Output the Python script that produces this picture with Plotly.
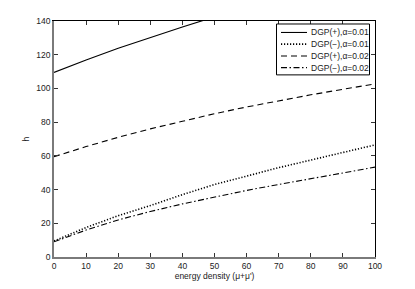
import plotly.graph_objects as go

energy = [0, 10, 20, 30, 40, 50, 60, 70, 80, 90, 100]
energy_plus01 = [0, 10, 20, 30, 40, 50]
h_plus_001 = [109.5, 116.9, 123.8, 130.3, 136.5, 142.4]
h_minus_001 = [9.5, 17.5, 24.5, 30.5, 37.0, 43.0, 48.0, 53.0, 57.5, 62.0, 66.5]
h_plus_002 = [59.5, 65.5, 71.0, 76.0, 80.5, 85.0, 89.0, 92.7, 96.2, 99.5, 102.7]
h_minus_002 = [9.0, 16.0, 22.0, 27.0, 31.5, 35.5, 39.5, 43.0, 46.5, 50.0, 53.3]

names = ["DGP(+),α=0.01", "DGP(−),α=0.01", "DGP(+),α=0.02", "DGP(−),α=0.02"]
x_ticks = [0, 10, 20, 30, 40, 50, 60, 70, 80, 90, 100]
y_ticks = [0, 20, 40, 60, 80, 100, 120, 140]

# page body has an 8px margin; figure is sized/offset to compensate
OFF = 8
W, H = 415 - OFF, 289 - OFF
ML, MT = 54 - OFF, 21 - OFF
MR = W - (375 - OFF)
MB = H - (257.5 - OFF)
PW, PH = W - ML - MR, H - MT - MB

font = dict(family="Liberation Sans, Arial, sans-serif", size=8.5, color="#222")

styles = [
    dict(color="black", width=1.1, dash="solid"),
    dict(color="black", width=1.6, dash="1.2px,1.8px"),
    dict(color="black", width=1.1, dash="6px,4px"),
    dict(color="black", width=1.1, dash="6px,2.5px,1.5px,2.5px"),
]
xs = [energy_plus01, energy, energy, energy]
ys = [h_plus_001, h_minus_001, h_plus_002, h_minus_002]

fig = go.Figure()
for x, y, nm, st in zip(xs, ys, names, styles):
    fig.add_trace(go.Scatter(x=x, y=y, mode="lines", name=nm, line=st, showlegend=False))

# invisible trace for mirrored top/right axes
fig.add_trace(go.Scatter(x=[0], y=[0], xaxis="x2", yaxis="y2", showlegend=False,
                         mode="markers", marker=dict(opacity=0), hoverinfo="skip"))


def px_x(p):
    return (p - OFF - ML) / PW


def px_y(p):
    return (H - MB - (p - OFF)) / PH


# compact MATLAB-style legend box (positions in page pixels)
shapes = [dict(type="rect", xref="paper", yref="paper",
               x0=px_x(276.5), x1=px_x(369.5), y0=px_y(75), y1=px_y(24),
               line=dict(color="black", width=1), fillcolor="white", layer="above")]
annotations = []
row_y = [32.5, 44.2, 56.0, 67.7]
for ry, nm, st in zip(row_y, names, styles):
    shapes.append(dict(type="line", xref="paper", yref="paper",
                       x0=px_x(281), x1=px_x(307), y0=px_y(ry), y1=px_y(ry),
                       line=st, layer="above"))
    annotations.append(dict(text=nm, xref="paper", yref="paper", x=px_x(309), y=px_y(ry),
                            xanchor="left", yanchor="middle", showarrow=False,
                            font=font))

axis_common = dict(ticks="inside", ticklen=4, tickwidth=0.8, tickcolor="#333",
                   showgrid=False, zeroline=False, tickfont=font, automargin=False)

fig.update_layout(
    width=W, height=H,
    margin=dict(l=ML, r=MR, t=MT, b=MB),
    paper_bgcolor="white", plot_bgcolor="white",
    font=font,
    showlegend=False,
    shapes=shapes,
    annotations=annotations,
    xaxis=dict(range=[0, 100], tickvals=x_ticks, showline=True, linecolor="#7a7a7a",
               linewidth=1.8, title=dict(text="energy density (μ+μ')", standoff=1,
                                         font=dict(size=8.5)), **axis_common),
    yaxis=dict(range=[0, 140], tickvals=y_ticks, showline=True, linecolor="#7a7a7a",
               linewidth=1.8, title=dict(text="h", standoff=5, font=dict(size=8.5)),
               **axis_common),
    xaxis2=dict(range=[0, 100], tickvals=x_ticks, overlaying="x", side="top",
                showline=True, linecolor="black", linewidth=1, showticklabels=False,
                **axis_common),
    yaxis2=dict(range=[0, 140], tickvals=y_ticks, overlaying="y", side="right",
                showline=True, linecolor="black", linewidth=1, showticklabels=False,
                **axis_common),
)

fig.write_html("out.html")
